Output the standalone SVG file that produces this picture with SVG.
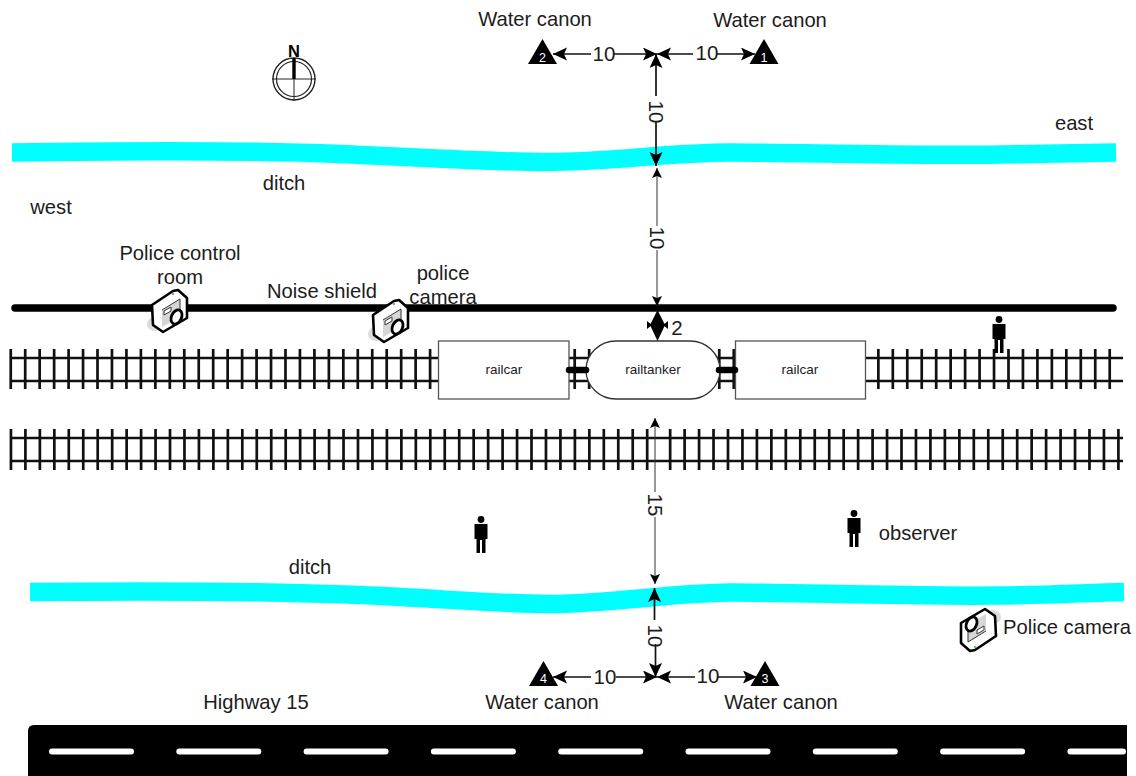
<svg xmlns="http://www.w3.org/2000/svg" xmlns:xlink="http://www.w3.org/1999/xlink" width="1136" height="776" viewBox="0 0 1136 776">
<style>
text{font-family:"Liberation Sans",Arial,sans-serif;fill:#1c1c1c;text-anchor:middle}
.lb{font-size:20.2px}
.sm{font-size:13.5px}
.num{font-size:20.5px}
.tn{font-size:12.5px;fill:#fff}
.ditch{fill:none;stroke:#00ffff;stroke-width:18.5}
.rail{stroke:#111;stroke-width:2.4;fill:none}
.tie{stroke:#111;fill:none;stroke-dasharray:2.7 11.76}
.car{fill:#fff;stroke:#555;stroke-width:1.3}
.dim{stroke:#111;stroke-width:1.7;fill:none}
.ar{marker-end:url(#ah)}
.thin{stroke:#333;stroke-width:1;fill:none;marker-end:url(#ahs)}
.coupler{stroke:#000;stroke-width:6.5;stroke-linecap:round;fill:none}
</style>
<defs>
<marker id="ah" markerUnits="userSpaceOnUse" markerWidth="16" markerHeight="14" refX="14" refY="6.5" orient="auto"><path d="M0 0L14 6.5L0 13L3 6.5Z" fill="#000"/></marker>
<marker id="ahs" markerUnits="userSpaceOnUse" markerWidth="12" markerHeight="12" refX="10" refY="5" orient="auto"><path d="M0 0L10 5L0 10L2 5Z" fill="#000"/></marker>
<g id="cam">
<ellipse cx="-15" cy="13" rx="8" ry="7" fill="#ccc" opacity=".7"/>
<path d="M-18 -6L3 -20L8 -21L17 -13L17 7L-7 21L-17 14Z" fill="#fff" stroke="#000" stroke-width="2.6" stroke-linejoin="round"/>
<path d="M-8 -1L10 -12V6L-8 16Z" fill="#d6d6d6"/>
<path d="M-8 -1L10 -12V6" fill="none" stroke="#333" stroke-width="1"/>
<path d="M-6 0L1 -4V0L-6 4Z" fill="#fff" stroke="#333" stroke-width="1"/>
<ellipse cx="6.500" cy="6" rx="5" ry="7.500" transform="rotate(25 6.500 6)" fill="#fff" stroke="#000" stroke-width="2.8"/>
<circle cx="3" cy="-17" r="1.3" fill="#7fb77f"/>
</g>
<g id="person" fill="#000">
<circle cx="0" cy="3.500" r="3.400"/>
<path d="M-6.500 8H6.500V23H4.500V37H1V24H-1V37H-4.500V23H-6.500Z"/>
</g>
<path id="tri" d="M0 0L14.500 25H-14.500Z" fill="#000"/>
</defs>

<g id="road"><path d="M34 725H1127V776H28V731Q28 725 34 725Z" fill="#000"/>
<line x1="52" y1="751.500" x2="1123" y2="751.500" stroke="#fff" stroke-width="6" stroke-linecap="round" stroke-dasharray="79 48.3"/></g>

<g id="ditch-north"><path class="ditch" d="M12 152.500C120 151 240 150 340 154C420 157.500 490 162 545 162C610 162 670 152.500 730 152.500C800 152.500 900 156 1000 154.500C1040 154 1080 153 1116 152.500"/></g>
<g id="ditch-south"><path class="ditch" d="M30 592C140 591 260 591 360 595C440 598.500 500 604 550 604C610 604 670 593 730 592.500C800 592.500 900 596.500 1000 595.500C1045 595 1085 593 1124 592"/></g>

<g id="noise-shield"><line x1="15" y1="308" x2="1113" y2="308" stroke="#000" stroke-width="7.500" stroke-linecap="round"/></g>

<g id="track-north">
<path class="rail" d="M10 358H1123M10 381H1123"/>
<line class="tie" x1="9.400" y1="369" x2="1112" y2="369" stroke-width="40"/>
</g>
<g id="track-south">
<path class="rail" d="M10 438H1123M10 461H1123"/>
<line class="tie" x1="9.600" y1="449.500" x2="649" y2="449.500" stroke-width="41"/>
<line class="tie" x1="668.800" y1="449.500" x2="1122" y2="449.500" stroke-width="41"/>
</g>

<g id="railcar-west"><rect class="car" x="438.500" y="341" width="130.500" height="58"/><text class="sm" x="504" y="374">railcar</text></g>
<g id="railcar-east"><rect class="car" x="735.500" y="341" width="130" height="58"/><text class="sm" x="800" y="374">railcar</text></g>
<g id="railtanker"><rect x="586" y="341" width="134" height="58" rx="30" ry="29" fill="#fff" stroke="#333" stroke-width="1.3"/><text class="sm" x="653" y="374">railtanker</text></g>
<g id="couplers"><path class="coupler" d="M569 370H586M719 370H735"/></g>

<g id="camera-control"><use xlink:href="#cam" href="#cam" transform="translate(170 311)"/></g>
<g id="camera-north"><use xlink:href="#cam" href="#cam" transform="translate(391 321)"/></g>
<g id="camera-south"><use xlink:href="#cam" href="#cam" transform="translate(978 630) rotate(180)"/></g>

<g id="person-1"><use xlink:href="#person" href="#person" transform="translate(999 316)"/></g>
<g id="person-2"><use xlink:href="#person" href="#person" transform="translate(481 516)"/></g>
<g id="person-3"><use xlink:href="#person" href="#person" transform="translate(854 510)"/></g>

<g id="compass" fill="none" stroke="#222">
<circle cx="294" cy="79" r="21" stroke-width="1.400"/><circle cx="294" cy="79" r="17.500" stroke-width="1.200"/>
<path d="M272 79H316M294 79V101" stroke-width="1"/>
<path d="M294 58V79" stroke="#000" stroke-width="3.400"/>
<text x="294" y="57" font-size="16.500" font-weight="700" stroke="none" style="fill:#000">N</text>
</g>

<g id="canon-1"><use xlink:href="#tri" href="#tri" x="764" y="39"/><text class="tn" x="764" y="62">1</text></g>
<g id="canon-2"><use xlink:href="#tri" href="#tri" x="542.500" y="39"/><text class="tn" x="542.500" y="62">2</text></g>
<g id="canon-3"><use xlink:href="#tri" href="#tri" x="765" y="661"/><text class="tn" x="765" y="683">3</text></g>
<g id="canon-4"><use xlink:href="#tri" href="#tri" x="543.500" y="661"/><text class="tn" x="543.500" y="683">4</text></g>

<g id="connectors">
<path class="dim ar" d="M591 54H553"/><path class="dim ar" d="M614 54H657"/>
<path class="dim ar" d="M693 54H657"/><path class="dim ar" d="M717 54H755"/>
<path class="dim ar" d="M656 96V54"/><path class="dim ar" d="M656 122V166"/>
<path class="thin" d="M657 226V168"/><path class="thin" d="M657 250V306"/>
<path class="thin" d="M655 492V418"/><path class="thin" d="M655 517V584"/>
<path class="dim ar" d="M654.500 620V588"/><path class="dim ar" d="M655.500 644V677"/>
<path class="dim ar" d="M591 677H553"/><path class="dim ar" d="M616 677H657"/>
<path class="dim ar" d="M695 677H657"/><path class="dim ar" d="M718 677H757"/>
<path d="M657.500 310L665 325L657.500 341L650 325Z" fill="#000"/>
<path d="M647 321L652 325L647 329ZM668 321L663 325L668 329Z" fill="#000"/>
</g>

<g id="labels">
<text class="lb" x="535" y="26">Water canon</text>
<text class="lb" x="770" y="27">Water canon</text>
<text class="lb" x="542" y="709">Water canon</text>
<text class="lb" x="781" y="709">Water canon</text>
<text class="lb" x="256" y="709">Highway 15</text>
<text class="lb" x="1074" y="130">east</text>
<text class="lb" x="51" y="214">west</text>
<text class="lb" x="284" y="190">ditch</text>
<text class="lb" x="310" y="574">ditch</text>
<text class="lb" x="180" y="260">Police control</text>
<text class="lb" x="180" y="284">room</text>
<text class="lb" x="322" y="298">Noise shield</text>
<text class="lb" x="443" y="280">police</text>
<text class="lb" x="443" y="304">camera</text>
<text class="lb" x="918" y="540">observer</text>
<text class="lb" x="1067" y="634">Police camera</text>
<text class="num" x="604" y="61">10</text>
<text class="num" x="707" y="60">10</text>
<text class="num" x="605" y="684">10</text>
<text class="num" x="708" y="683">10</text>
<text class="num" x="677" y="335">2</text>
<text class="num" transform="translate(649 112) rotate(90)">10</text>
<text class="num" transform="translate(650 238) rotate(90)">10</text>
<text class="num" transform="translate(648 505) rotate(90)">15</text>
<text class="num" transform="translate(648 636) rotate(90)">10</text>
</g>
</svg>
